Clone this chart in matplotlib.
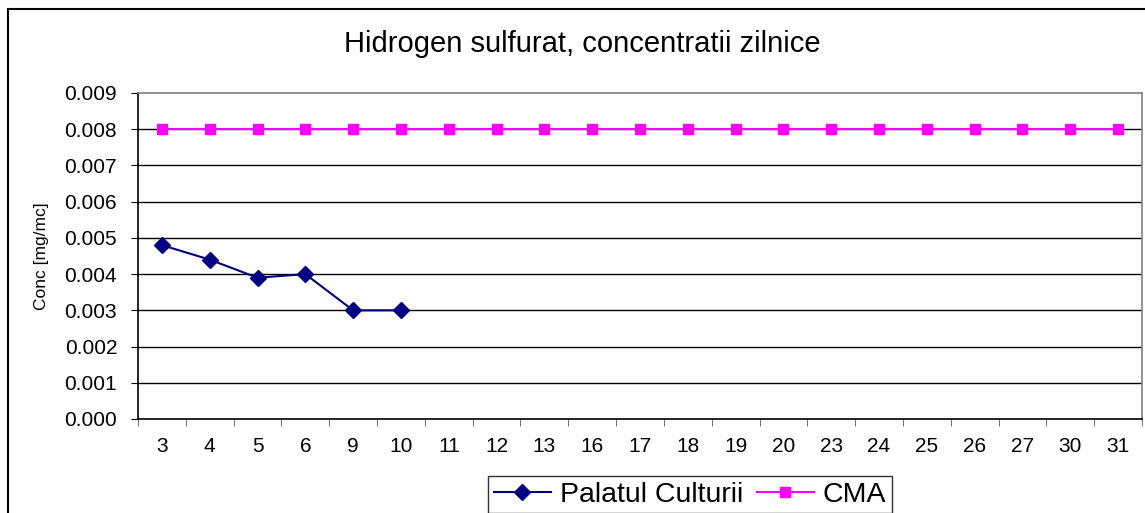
import matplotlib
matplotlib.use("Agg")
import matplotlib.pyplot as plt
import matplotlib.patches as patches
import numpy as np

plt.rcParams['font.family'] = ['Liberation Sans', 'DejaVu Sans']

# Data
days = ["3", "4", "5", "6", "9", "10", "11", "12", "13", "16", "17",
        "18", "19", "20", "23", "24", "25", "26", "27", "30", "31"]
palatul = [0.0048, 0.0044, 0.0039, 0.0040, 0.0030, 0.0030]
cma = [0.008] * len(days)
yticks = [0.000, 0.001, 0.002, 0.003, 0.004, 0.005, 0.006, 0.007, 0.008, 0.009]

fig = plt.figure(figsize=(11.45, 5.13), dpi=100)
ax = fig.add_axes([138/1145, 1-419/513, (1142-138)/1145, (419-93)/513])

x = np.arange(len(days))
ax.plot(x[:len(palatul)], palatul, color="#000080", lw=1.5, marker="D",
        markersize=8, label="Palatul Culturii")
ax.plot(x, cma, color="#FF00FF", lw=1.5, marker="s", markersize=7, label="CMA")

ax.set_xlim(-0.5, len(days) - 0.5)
ax.set_ylim(0, 0.009)
ax.set_yticks(yticks)
ax.set_yticklabels([f"{v:.3f}" for v in yticks], fontsize=15)
ax.set_xticks(x)
ax.set_xticklabels(days, fontsize=15)
ax.tick_params(axis="x", which="major", length=0, pad=13)
ax.set_xticks(np.arange(-0.5, len(days)), minor=True)
ax.tick_params(axis="x", which="minor", length=5, direction="out", color="#555555")
ax.tick_params(axis="y", length=5, direction="out", pad=10)

for v in yticks[1:-1]:
    ax.axhline(v, color="black", lw=1, zorder=0)
for s in ["top", "right"]:
    ax.spines[s].set_color("#808080")
    ax.spines[s].set_linewidth(1.2)
for s in ["left", "bottom"]:
    ax.spines[s].set_color("black")
    ax.spines[s].set_linewidth(1.2)

ax.set_ylabel("Conc [mg/mc]", fontsize=12.5)
ax.yaxis.set_label_coords(-0.089, 0.5)

fig.text(582/1145, 1-44/513, "Hidrogen sulfurat, concentratii zilnice",
         ha="center", va="center", fontsize=21)

leg = fig.legend(loc="upper center", bbox_to_anchor=(690/1145, 1-476/513),
                 ncol=2, fontsize=20.5, frameon=True, fancybox=False,
                 edgecolor="black", handlelength=2.0, columnspacing=0.5,
                 handletextpad=0.3, borderpad=0.2, borderaxespad=0)
leg.get_frame().set_linewidth(1)

# outer chart border
fig.patches.append(patches.Rectangle((8/1145, -0.2), 1.1, 1.2 - 9/513,
                                     transform=fig.transFigure, fill=False,
                                     edgecolor="black", lw=1.5))

fig.savefig("out.png", dpi=100)
